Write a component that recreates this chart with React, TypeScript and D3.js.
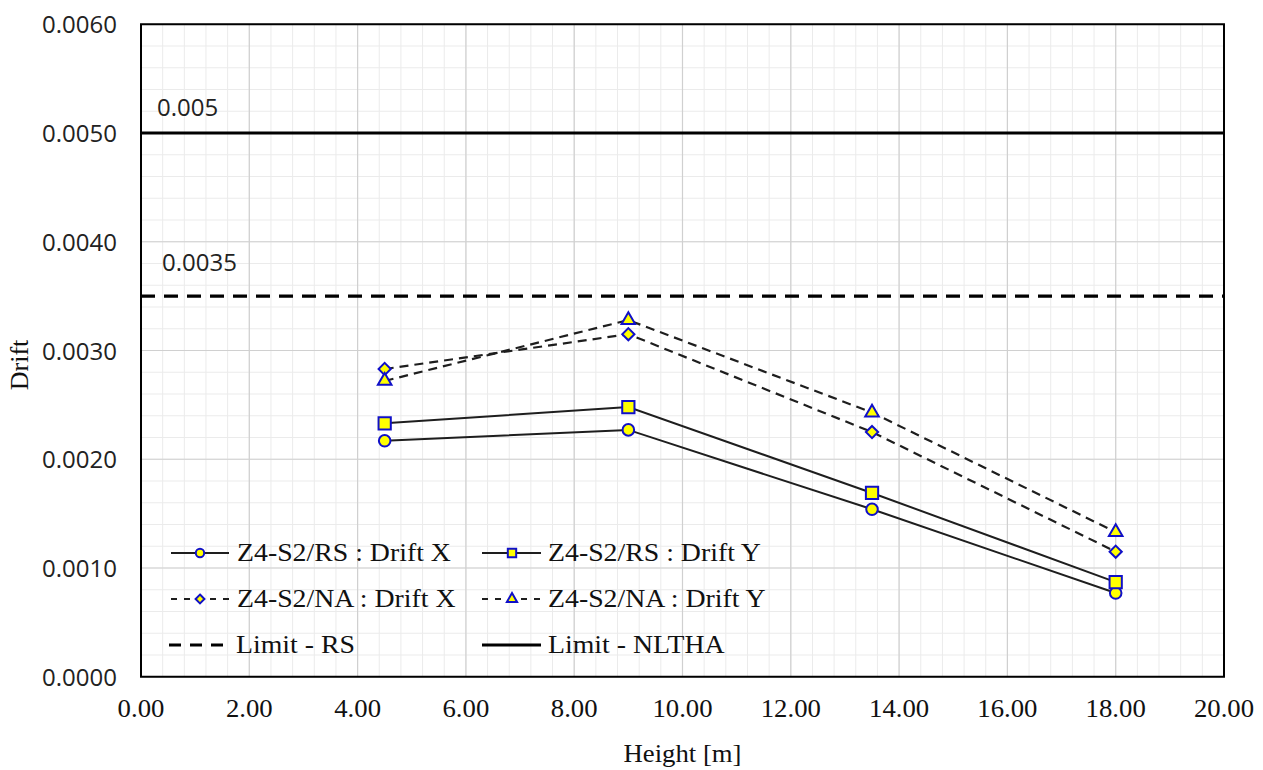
import React from "react";
import * as d3 from "d3";

const heights = [4.5, 9, 13.5, 18];
const rsDriftX = [0.00217, 0.00227, 0.00154, 0.00077];
const rsDriftY = [0.00233, 0.00248, 0.00169, 0.00087];
const naDriftX = [0.00283, 0.00315, 0.00225, 0.00115];
const naDriftY = [0.00272, 0.00328, 0.00243, 0.00133];
const limitRS = 0.0035;
const limitNLTHA = 0.005;
const xTicks = [0, 2, 4, 6, 8, 10, 12, 14, 16, 18, 20];
const yTicks = [0, 0.001, 0.002, 0.003, 0.004, 0.005, 0.006];

const W = 1263;
const H = 770;
const L = 141;
const R = 1224;
const T = 24.25;
const B = 676.75;

const SERIF = "'Liberation Serif', 'Times New Roman', serif";
const SANS = "'Open Sans', 'Noto Sans', sans-serif";
const FILL = "#FFFF00";
const MSTROKE = "#1010C8";
const LINE = "#1e1e1e";

type Series = {
  name: string;
  values: number[];
  dash: string | null;
  symbol: d3.SymbolType;
  size: number;
  legendSize: number;
};

const series: Series[] = [
  { name: "Z4-S2/RS : Drift X", values: rsDriftX, dash: null, symbol: d3.symbolCircle, size: 105, legendSize: 55 },
  { name: "Z4-S2/RS : Drift Y", values: rsDriftY, dash: null, symbol: d3.symbolSquare, size: 150, legendSize: 70 },
  { name: "Z4-S2/NA : Drift X", values: naDriftX, dash: "9,6", symbol: d3.symbolDiamond2, size: 95, legendSize: 50 },
  { name: "Z4-S2/NA : Drift Y", values: naDriftY, dash: "9,6", symbol: d3.symbolTriangle, size: 80, legendSize: 45 },
];

function SText(props: {
  x: number;
  y: number;
  sx?: number;
  anchor?: string;
  size: number;
  family: string;
  rotate?: number;
  fill?: string;
  children: React.ReactNode;
}) {
  const { x, y, sx = 1.07, anchor = "start", size, family, rotate = 0, fill = "#111" } = props;
  return (
    <text
      transform={`translate(${x},${y}) rotate(${rotate}) scale(${sx},1)`}
      textAnchor={anchor}
      fontSize={size}
      fontFamily={family}
      fill={fill}
    >
      {props.children}
    </text>
  );
}

export default function App() {
  const x = d3.scaleLinear().domain([0, 20]).range([L, R]);
  const y = d3.scaleLinear().domain([0, 0.006]).range([B, T]);

  const minorX = d3.range(0, 20.0001, 0.4);
  const minorY = d3.range(0, 0.0060001, 0.0002);

  const line = d3
    .line<number>()
    .x((_, i) => x(heights[i]))
    .y((d) => y(d));

  const legendRows = [553, 599, 645];
  const col1 = { l0: 171, l1: 229, m: 200, t: 237 };
  const col2 = { l0: 482, l1: 541, m: 512, t: 548 };
  const legendItems = [
    { s: series[0], col: col1, row: 0 },
    { s: series[1], col: col2, row: 0 },
    { s: series[2], col: col1, row: 1 },
    { s: series[3], col: col2, row: 1 },
  ];

  return (
    <svg
      width={W}
      height={H}
      style={{ position: "absolute", left: 0, top: 0, background: "#fff" }}
    >
      <rect x={0} y={0} width={W} height={H} fill="#fff" />
      {minorX.map((v, i) => (
        <line key={"mx" + i} x1={x(v)} x2={x(v)} y1={T} y2={B} stroke="#ebebeb" strokeWidth={1} />
      ))}
      {minorY.map((v, i) => (
        <line key={"my" + i} x1={L} x2={R} y1={y(v)} y2={y(v)} stroke="#ebebeb" strokeWidth={1} />
      ))}
      {xTicks.map((v) => (
        <line key={"gx" + v} x1={x(v)} x2={x(v)} y1={T} y2={B} stroke="#d0d0d0" strokeWidth={1.2} />
      ))}
      {yTicks.map((v) => (
        <line key={"gy" + v} x1={L} x2={R} y1={y(v)} y2={y(v)} stroke="#d0d0d0" strokeWidth={1.2} />
      ))}

      <line x1={x(0)} x2={x(20)} y1={y(limitNLTHA)} y2={y(limitNLTHA)} stroke="#000" strokeWidth={3.2} />
      <line
        x1={x(0)}
        x2={x(20)}
        y1={y(limitRS)}
        y2={y(limitRS)}
        stroke="#000"
        strokeWidth={3.2}
        strokeDasharray="14,9"
      />
      <SText x={x(0) + 16} y={y(limitNLTHA) - 17} size={24} family={SANS} sx={1} fill="#222">
        0.005
      </SText>
      <SText x={x(0) + 21} y={y(limitRS) - 25} size={24} family={SANS} sx={1} fill="#222">
        0.0035
      </SText>

      {series.map((s) => (
        <path
          key={"l" + s.name}
          d={line(s.values) || ""}
          fill="none"
          stroke={LINE}
          strokeWidth={s.dash ? 2.2 : 2}
          strokeDasharray={s.dash || undefined}
        />
      ))}
      {series.map((s) =>
        s.values.map((v, i) => (
          <path
            key={"m" + s.name + i}
            d={d3.symbol(s.symbol, s.size)() || ""}
            transform={`translate(${x(heights[i])},${y(v)})`}
            fill={FILL}
            stroke={MSTROKE}
            strokeWidth={2}
          />
        ))
      )}

      <rect x={L} y={T} width={R - L} height={B - T} fill="none" stroke="#000" strokeWidth={2} />

      {yTicks.map((v) => (
        <SText key={"yt" + v} x={117} y={y(v) + 9} anchor="end" size={24} family={SANS} sx={1} fill="#222">
          {v.toFixed(4)}
        </SText>
      ))}
      {xTicks.map((v) => (
        <SText key={"xt" + v} x={x(v)} y={717} anchor="middle" size={25} family={SERIF}>
          {v.toFixed(2)}
        </SText>
      ))}
      <SText x={(L + R) / 2} y={762} anchor="middle" size={25} family={SERIF}>
        Height [m]
      </SText>
      <SText x={28} y={365} anchor="middle" size={26} family={SERIF} rotate={-90} sx={1}>
        Drift
      </SText>

      {legendItems.map(({ s, col, row }) => (
        <g key={"lg" + s.name}>
          <line
            x1={col.l0}
            x2={col.l1}
            y1={legendRows[row]}
            y2={legendRows[row]}
            stroke={LINE}
            strokeWidth={2}
            strokeDasharray={s.dash ? "6,7" : undefined}
          />
          <path
            d={d3.symbol(s.symbol, s.legendSize)() || ""}
            transform={`translate(${col.m},${legendRows[row]})`}
            fill={FILL}
            stroke={MSTROKE}
            strokeWidth={2}
          />
          <SText x={col.t} y={legendRows[row] + 8} size={26} family={SERIF}>
            {s.name}
          </SText>
        </g>
      ))}
      <line
        x1={col1.l0 - 2}
        x2={col1.l1 + 1}
        y1={legendRows[2]}
        y2={legendRows[2]}
        stroke="#000"
        strokeWidth={3.2}
        strokeDasharray="12,9"
      />
      <SText x={col1.t - 1} y={legendRows[2] + 8} size={26} family={SERIF}>
        Limit - RS
      </SText>
      <line
        x1={col2.l0}
        x2={col2.l1}
        y1={legendRows[2]}
        y2={legendRows[2]}
        stroke="#000"
        strokeWidth={3.2}
      />
      <SText x={col2.t} y={legendRows[2] + 8} size={26} family={SERIF}>
        Limit - NLTHA
      </SText>
    </svg>
  );
}
